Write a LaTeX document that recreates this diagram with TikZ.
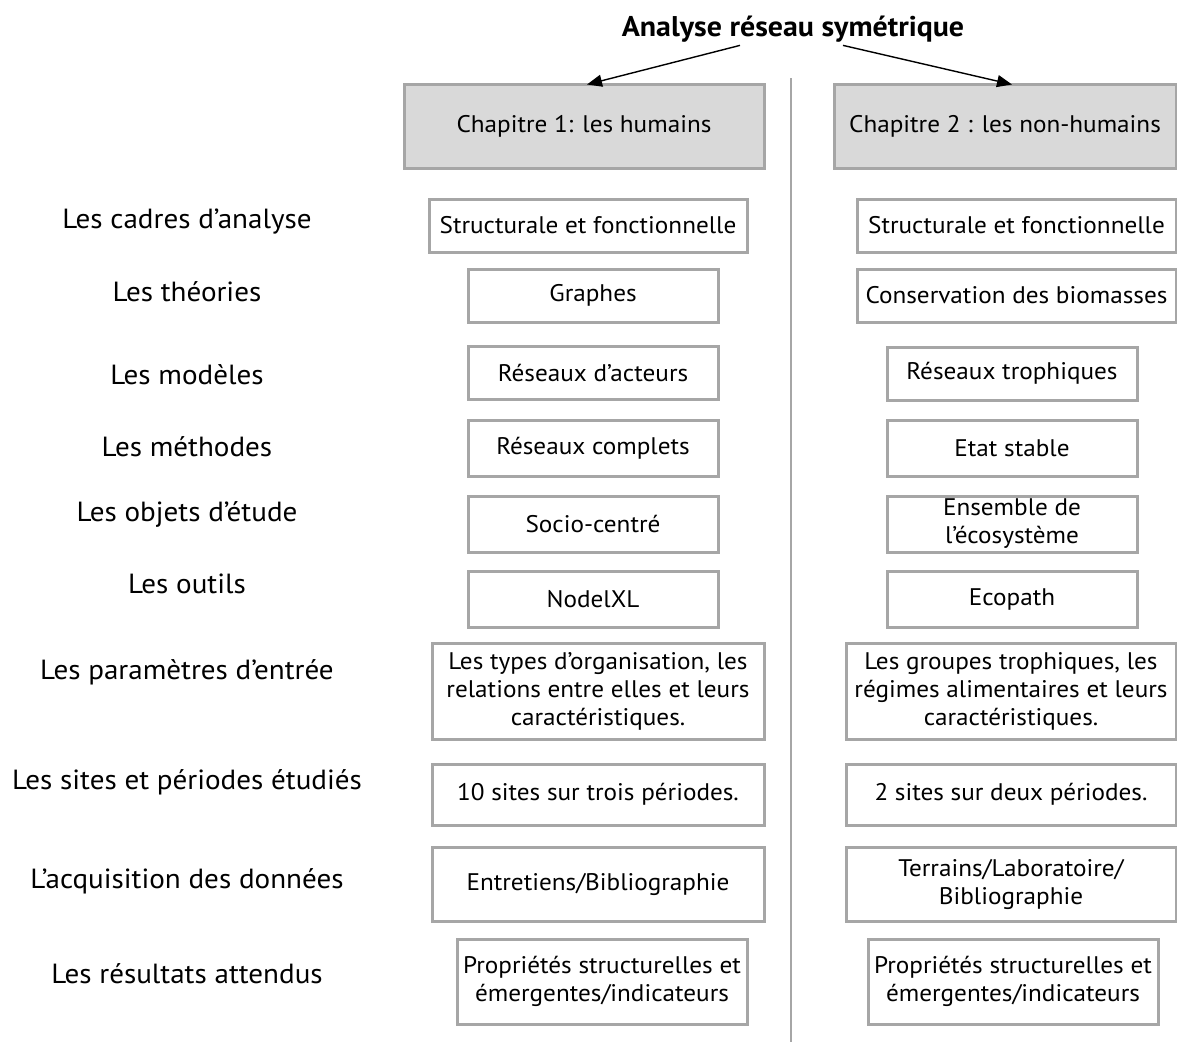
\documentclass[tikz,border=0pt]{standalone}
\usepackage{fontspec}
\setmainfont{PT Sans}[FakeStretch=1.05]
\usetikzlibrary{arrows.meta}
\definecolor{bordergray}{HTML}{A6A6A6}
\definecolor{headfill}{HTML}{D9D9D9}
\begin{document}
\begin{tikzpicture}[x=1pt,y=-1pt,
  box/.style={draw=bordergray, line width=3pt, fill=white, rectangle, inner sep=0pt, align=center, font=\fontsize{24}{28}\selectfont},
  head/.style={box, fill=headfill},
  lab/.style={inner sep=0pt, align=center, font=\fontsize{27.7}{30}\selectfont},
  arr/.style={line width=1.4pt, -{Triangle[length=15pt,width=12pt]}}
]
\useasboundingbox (0,0) rectangle (1177,1042);
% title
\node[font=\bfseries\fontsize{28.5}{30}\selectfont, inner sep=0pt] (title) at (793,29) {Analyse réseau symétrique};
% separator
\coordinate (sepTop) at (791,78);
\coordinate (sepBot) at (791,1042);
\draw[bordergray, line width=1.5pt] (sepTop) -- (sepBot);
% headers
\node[head, minimum width=360pt, minimum height=84pt] (h1) at (584,126) {Chapitre 1: les humains};
\node[head, minimum width=342pt, minimum height=84pt] (h2) at (1005,126) {Chapitre 2 : les non-humains};
\draw[arr] ([xshift=-53pt,yshift=-3pt]title.south) -- ([xshift=3pt,yshift=-2pt]h1.north);
\draw[arr] ([xshift=50pt,yshift=-3pt]title.south) -- ([xshift=7pt,yshift=-2pt]h2.north);
% left labels
\node[lab] (t1) at (187,222) {Les cadres d’analyse};
\node[lab] (t2) at (187,292) {Les théories};
\node[lab] (t3) at (187,375) {Les modèles};
\node[lab] (t4) at (187,447) {Les méthodes};
\node[lab] (t5) at (187,514) {Les objets d’étude};
\node[lab] (t6) at (187,584) {Les outils};
\node[lab] (t7) at (187,672) {Les paramètres d’entrée};
\node[lab] (t8) at (187,782) {Les sites et périodes étudiés};
\node[lab] (t9) at (187,881) {L’acquisition des données};
\node[lab] (t10) at (187,974) {Les résultats attendus};
% left column
\node[box, minimum width=318pt, minimum height=53pt] (l1) at (588,225.5) {Structurale et fonctionnelle};
\node[box, minimum width=250pt, minimum height=53pt] (l2) at (593,295.5) {Graphes};
\node[box, minimum width=250pt, minimum height=53pt] (l3) at (593,372.5) {Réseaux d’acteurs};
\node[box, minimum width=250pt, minimum height=56pt] (l4) at (593,448) {Réseaux complets};
\node[box, minimum width=250pt, minimum height=56pt] (l5) at (593,524) {Socio-centré};
\node[box, minimum width=250pt, minimum height=56pt] (l6) at (593,599) {NodelXL};
\node[box, minimum width=332pt, minimum height=96pt] (l7) at (598,691) {Les types d’organisation, les\\relations entre elles et leurs\\caractéristiques.};
\node[box, minimum width=332pt, minimum height=61pt] (l8) at (598,794.5) {10 sites sur trois périodes.};
\node[box, minimum width=332pt, minimum height=74pt] (l9) at (598,884) {Entretiens/Bibliographie};
\node[box, minimum width=290pt, minimum height=85pt] (l10) at (602,981.5) {Propriétés structurelles et\\émergentes/indicateurs};
% right column
\node[box, minimum width=319pt, minimum height=53pt] (r1) at (1016.5,225.5) {Structurale et fonctionnelle};
\node[box, minimum width=319pt, minimum height=53pt] (r2) at (1016.5,295.5) {Conservation des biomasses};
\node[box, minimum width=250pt, minimum height=53pt] (r3) at (1012,373.5) {Réseaux trophiques};
\node[box, minimum width=250pt, minimum height=56pt] (r4) at (1012,448) {Etat stable};
\node[box, minimum width=250pt, minimum height=56pt] (r5) at (1012,524) {Ensemble de\\l’écosystème};
\node[box, minimum width=250pt, minimum height=56pt] (r6) at (1012,599) {Ecopath};
\node[box, minimum width=330pt, minimum height=96pt] (r7) at (1011,691) {Les groupes trophiques, les\\régimes alimentaires et leurs\\caractéristiques.};
\node[box, minimum width=330pt, minimum height=61pt] (r8) at (1011,794.5) {2 sites sur deux périodes.};
\node[box, minimum width=330pt, minimum height=74pt] (r9) at (1011,884) {Terrains/Laboratoire/\\Bibliographie};
\node[box, minimum width=290pt, minimum height=85pt] (r10) at (1013,981.5) {Propriétés structurelles et\\émergentes/indicateurs};
\end{tikzpicture}
\end{document}
